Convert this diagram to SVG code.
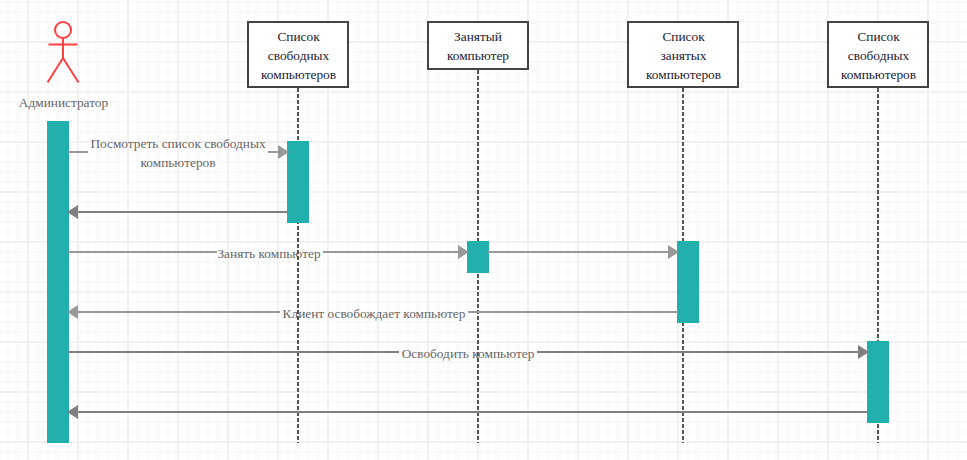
<svg xmlns="http://www.w3.org/2000/svg" width="967" height="460" viewBox="0 0 967 460">
<style>
text{font-family:"Liberation Serif","Times New Roman",serif;font-size:13.33px;text-anchor:middle}
.n{fill:#1a1a33}.l{fill:#666}
.box{fill:#fff;stroke:#444;stroke-width:2}
.life{stroke:#555;stroke-width:2;stroke-dasharray:4 2;fill:none}
.act{fill:#22b0af;stroke:none}
.c1{stroke:#999;stroke-width:2;fill:none}
.c2{stroke:#808080;stroke-width:2;fill:none}
.a1{fill:#999}.a2{fill:#808080}
</style>
<defs>
<pattern id="minor" width="10" height="10" patternUnits="userSpaceOnUse" x="3" y="-3">
<path d="M0 5H10M5 0V10" stroke="#fafafa" stroke-width="2" fill="none"/>
</pattern>
<pattern id="major" width="50" height="50" patternUnits="userSpaceOnUse" x="3" y="17">
<path d="M0 25H50M25 0V50" stroke="#f1f1f1" stroke-width="2" fill="none"/>
</pattern>
</defs>
<g id="grid">
<rect width="967" height="460" fill="#fff"/>
<rect width="967" height="460" fill="url(#minor)"/>
<rect width="967" height="460" fill="url(#major)"/>
</g>
<g id="lifelines">
<path class="life" d="M298 88V443"/>
<path class="life" d="M478 70V443"/>
<path class="life" d="M683 88V443"/>
<path class="life" d="M878 88V443"/>
</g>
<g id="actor-admin">
<g fill="none" stroke="#ff4040" stroke-width="2">
<circle cx="63" cy="30" r="8"/>
<path d="M63 38V58M48.500 44.500H77.500M63 58L47.500 82.500M63 58L78.500 82.500"/>
</g>
<text class="l" x="63.500" y="107">Администратор</text>
<rect class="act" x="47" y="121" width="22" height="322"/>
</g>
<g id="node-free1">
<rect class="box" x="248" y="22" width="100" height="65"/>
<text class="n" x="298.500" y="41">Список</text>
<text class="n" x="298.500" y="60">свободных</text>
<text class="n" x="298.500" y="79">компьютеров</text>
<rect class="act" x="287" y="141" width="22" height="82"/>
</g>
<g id="node-busy">
<rect class="box" x="428" y="22" width="100" height="47"/>
<text class="n" x="478" y="41">Занятый</text>
<text class="n" x="478" y="60">компьютер</text>
<rect class="act" x="467" y="241" width="22" height="32"/>
</g>
<g id="node-busylist">
<rect class="box" x="628" y="22" width="110" height="65"/>
<text class="n" x="683.500" y="41">Список</text>
<text class="n" x="683.500" y="60">занятых</text>
<text class="n" x="683.500" y="79">компьютеров</text>
<rect class="act" x="677" y="241" width="22" height="82"/>
</g>
<g id="node-free2">
<rect class="box" x="828" y="22" width="100" height="65"/>
<text class="n" x="878.500" y="41">Список</text>
<text class="n" x="878.500" y="60">свободных</text>
<text class="n" x="878.500" y="79">компьютеров</text>
<rect class="act" x="867" y="341" width="22" height="82"/>
</g>
<g id="connectors">
<path class="c1" d="M68 152H88M268 152H280"/>
<path class="a1" d="M278 145L289 152L278 159Z"/>
<path class="c2" d="M288 212H76"/>
<path class="a2" d="M78 205L67 212L78 219Z"/>
<path class="c1" d="M68 252H217M323 252H460"/>
<path class="a1" d="M458 245L469 252L458 259Z"/>
<path class="c1" d="M488 252H670"/>
<path class="a1" d="M668 245L679 252L668 259Z"/>
<path class="c1" d="M678 312H468M280 312H76"/>
<path class="a1" d="M78 305L67 312L78 319Z"/>
<path class="c2" d="M68 352H399M537 352H860"/>
<path class="a2" d="M858 345L869 352L858 359Z"/>
<path class="c2" d="M868 412H76"/>
<path class="a2" d="M78 405L67 412L78 419Z"/>
<text class="l" x="178" y="148">Посмотреть список свободных</text>
<text class="l" x="178" y="167">компьютеров</text>
<text class="l" x="269" y="258">Занять компьютер</text>
<text class="l" x="374" y="318">Клиент освобождает компьютер</text>
<text class="l" x="468" y="358">Освободить компьютер</text>
</g>
</svg>
